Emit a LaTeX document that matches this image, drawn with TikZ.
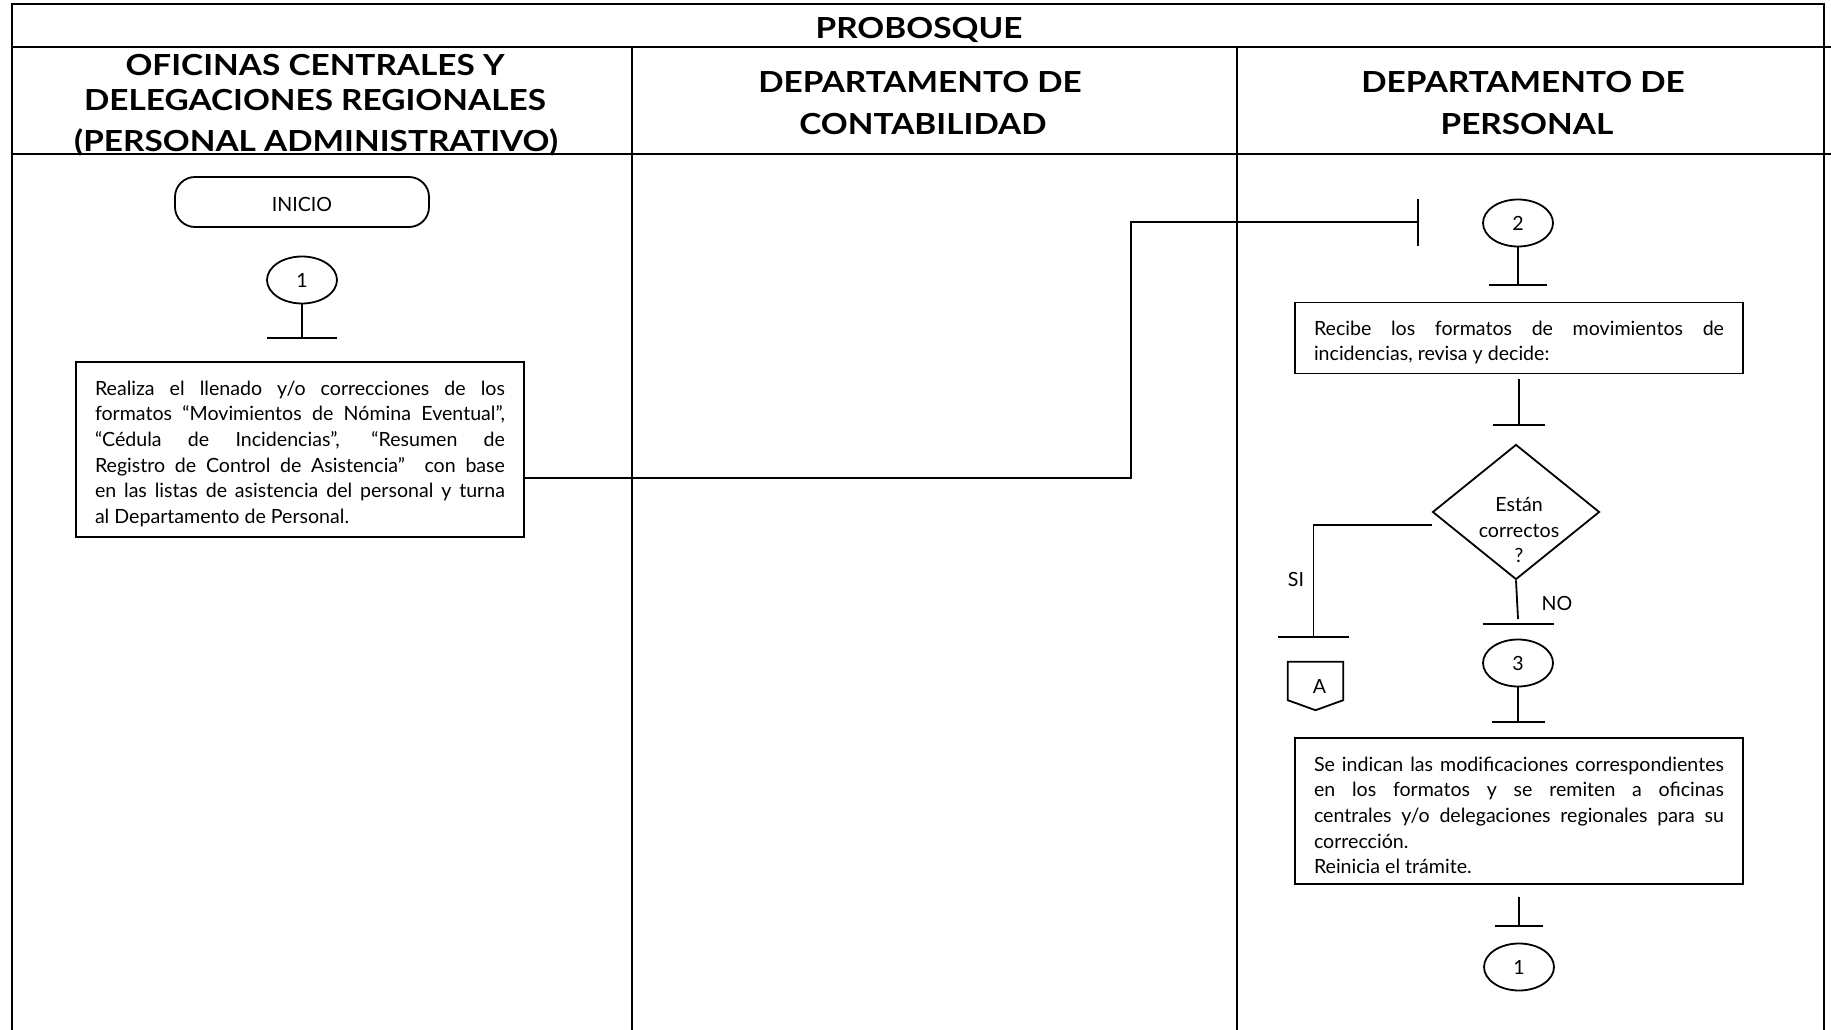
\documentclass[tikz,border=0pt]{standalone}
\usepackage{fontspec}
\setmainfont{Lato}
\newfontfamily\hdrfont[FakeStretch=1.15]{Lato}
\usetikzlibrary{shapes.geometric}
\newcommand{\topfix}{\rule{0pt}{23pt}}
\tikzset{
  tbl/.style={line width=2.6pt},
  flow/.style={line width=1.8pt},
  hdr/.style={font=\hdrfont\bfseries\fontsize{29}{34}\selectfont, anchor=base, inner sep=0pt},
  body/.style={font=\fontsize{19.6}{25.6}\selectfont},
  procbox/.style={draw, flow, rectangle, minimum width=448pt, text width=410pt, align=justify, inner sep=0pt, body},
  term/.style={draw, flow, rectangle, rounded corners=20pt, minimum width=254pt, minimum height=50pt, text height=18pt, text depth=0pt, body},
  conn/.style={draw, flow, ellipse, minimum width=70pt, minimum height=47pt, inner sep=0pt, body},
  dmd/.style={draw, flow, diamond, minimum width=167pt, minimum height=135pt, inner sep=0pt},
  lbl/.style={body, inner sep=0pt}
}
\begin{document}
\begin{tikzpicture}[x=1pt, y=-1pt]
\useasboundingbox (0,0) rectangle (1831,1030);
% table
\draw[tbl] (12,1030) -- (12,4) -- (1824,4) -- (1824,1030);
\draw[tbl] (12,47) -- (1831,47);
\draw[tbl] (12,154) -- (1831,154);
\draw[tbl] (632,47) -- (632,1030);
\draw[tbl] (1237,47) -- (1237,1030);
% headers
\node[hdr] (hp) at (919,38.5) {PROBOSQUE};
\node[hdr] (h1a) at (315,75.5) {OFICINAS CENTRALES Y};
\node[hdr] (h1b) at (315,110.5) {DELEGACIONES REGIONALES};
\node[hdr] (h1c) at (316,151.5) {(PERSONAL ADMINISTRATIVO)};
\node[hdr] (h2a) at (920,92.7) {DEPARTAMENTO DE};
\node[hdr] (h2b) at (923,135) {CONTABILIDAD};
\node[hdr] (h3a) at (1523,92.7) {DEPARTAMENTO DE};
\node[hdr] (h3b) at (1527,135) {PERSONAL};
% column 1
\node[term] (inicio) at (302,202) {INICIO};
\node[conn] (c1) at (302,280) {1};
\coordinate (t1) at (302,338);
\draw[flow] (c1.south) -- (t1);
\draw[flow] ([xshift=-35pt]t1) -- ([xshift=35pt]t1);
\node[procbox, minimum height=175pt] (p1) at (300,449.5) {\topfix Realiza el llenado y/o correcciones de los\linebreak formatos “Movimientos de Nómina Eventual”,\linebreak “Cédula de Incidencias”, “Resumen de\linebreak Registro de Control de Asistencia”~ con base\linebreak en las listas de asistencia del personal y turna\linebreak al Departamento de Personal.};
% long connector
\coordinate (j1) at (1131,222);
\coordinate (t2) at (1418,222);
\draw[flow] ([yshift=-28.5pt]p1.east) -| (j1) -- (t2);
\draw[flow] ([yshift=23.5pt]t2) -- ([yshift=-23.5pt]t2);
% column 3
\node[conn] (c2) at (1518,223) {2};
\coordinate (t3) at (1518,285);
\draw[flow] (c2.south) -- (t3);
\draw[flow] ([xshift=-29pt]t3) -- ([xshift=29pt]t3);
\node[procbox, minimum height=71pt] (p2) at (1519,338) {\topfix Recibe los formatos de movimientos de\linebreak incidencias, revisa y decide:};
\coordinate (t4) at (1519,425);
\draw[flow] ([yshift=-5pt]p2.south) -- (t4);
\draw[flow] ([xshift=-26pt]t4) -- ([xshift=26pt]t4);
\node[dmd] (d) at (1516,512) {};
\node[lbl, align=center] (dq) at (1519,530) {Están\\correctos\\?};
% SI branch
\coordinate (s1) at (1313.5,637);
\draw[flow] ([yshift=-13pt]d.west) -| (s1);
\draw[flow] ([xshift=-35.5pt]s1) -- ([xshift=35.5pt]s1);
\node[lbl] (si) at (1296,579) {SI};
\node[lbl, minimum width=55pt, minimum height=48pt] (offA) at (1315.5,686) {\hspace*{8pt}A};
\draw[flow] (offA.north west) -- (offA.north east) -- ([yshift=10pt]offA.south east) -- (offA.south) -- ([yshift=10pt]offA.south west) -- cycle;
% NO branch
\coordinate (t5) at (1518,624);
\draw[flow] (d.south) -- ([yshift=5pt]t5);
\draw[flow] ([xshift=-35.5pt]t5) -- ([xshift=35.5pt]t5);
\node[lbl] (no) at (1557,603) {NO};
\node[conn] (c3) at (1518,663) {3};
\coordinate (t6) at (1518,722);
\draw[flow] (c3.south) -- (t6);
\draw[flow] ([xshift=-26.5pt]t6) -- ([xshift=26.5pt]t6);
\node[procbox, minimum height=146pt] (p3) at (1519,811) {\topfix Se indican las modificaciones correspondientes\linebreak en los formatos y se remiten a oficinas\linebreak centrales y/o delegaciones regionales para su\linebreak corrección.\\Reinicia el trámite.};
\coordinate (t7) at (1519,926);
\draw[flow] ([yshift=-12pt]p3.south) -- (t7);
\draw[flow] ([xshift=-24pt]t7) -- ([xshift=24pt]t7);
\node[conn] (c4) at (1519,967) {1};
\end{tikzpicture}
\end{document}
